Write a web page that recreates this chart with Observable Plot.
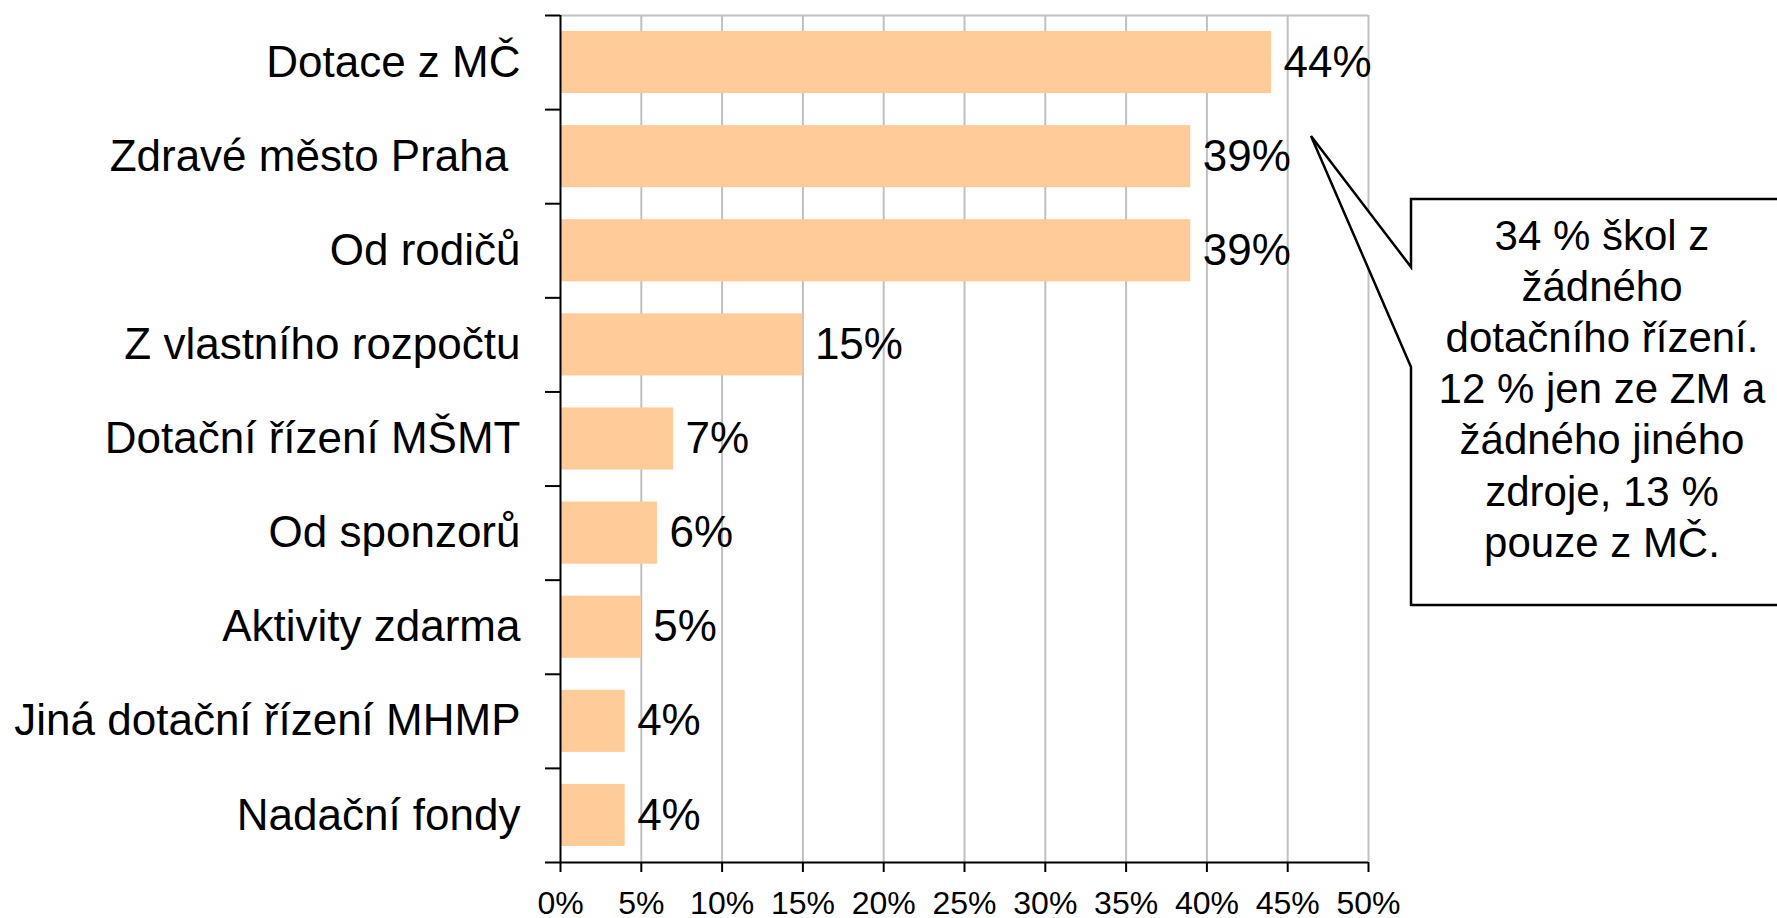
<!DOCTYPE html>
<html>
<head>
<meta charset="utf-8">
<script src="https://cdn.jsdelivr.net/npm/d3@7"></script>
<script src="https://cdn.jsdelivr.net/npm/@observablehq/plot@0.6"></script>
<style>
  html, body { margin: 0; padding: 0; background: #ffffff; }
  #chart { width: 1777px; height: 918px; }
</style>
</head>
<body>
<div id="chart"></div>
<script>
const categories = [
  "Dotace z MČ",
  "Zdravé město Praha ",
  "Od rodičů",
  "Z vlastního rozpočtu",
  "Dotační řízení MŠMT",
  "Od sponzorů",
  "Aktivity zdarma",
  "Jiná dotační řízení MHMP",
  "Nadační fondy"
];
const values = [0.44, 0.39, 0.39, 0.15, 0.07, 0.06, 0.05, 0.04, 0.04];
const xTicks = [0, 0.05, 0.10, 0.15, 0.20, 0.25, 0.30, 0.35, 0.40, 0.45, 0.50];
const calloutLines = [
  "34 % škol z",
  "žádného",
  "dotačního řízení.",
  "12 % jen ze ZM a",
  "žádného jiného",
  "zdroje, 13 %",
  "pouze z MČ."
];

const data = categories.map((c, i) => ({category: c, value: values[i], index: i}));
const n = categories.length;
const pct = d3.format(".0%");
const font = "'Liberation Sans', Arial, sans-serif";

const plot = Plot.plot({
  width: 1777,
  height: 918,
  marginLeft: 560,
  marginRight: 409,
  marginTop: 15,
  marginBottom: 56,
  style: {fontFamily: font, background: "white", color: "black", overflow: "visible"},
  x: {domain: [0, 0.5]},
  y: {domain: [0, n], reverse: true},
  marks: [
    Plot.ruleX(xTicks.slice(1), {stroke: "#c0c0c0", strokeWidth: 2}),
    Plot.ruleY([0], {stroke: "#c0c0c0", strokeWidth: 2}),
    Plot.rect(data, {
      x1: d => 0,
      x2: "value",
      y1: d => d.index + 0.17,
      y2: d => d.index + 0.83,
      fill: "#FFCC99"
    }),
    Plot.text(data, {
      x: "value",
      y: d => d.index + 0.5,
      text: d => pct(d.value),
      dx: 12,
      textAnchor: "start",
      fontSize: 44,
      fill: "black"
    }),
    Plot.axisY(data.map(d => d.index + 0.5), {
      tickSize: 0,
      tickPadding: 40,
      tickFormat: v => categories[Math.floor(v)],
      fontSize: 44,
      fill: "black",
      label: null
    }),
    Plot.axisY(data.map(d => d.index).concat([n]), {
      tickSize: 15,
      tickFormat: () => "",
      stroke: "black",
      strokeWidth: 2,
      label: null
    }),
    Plot.axisX(xTicks, {
      tickSize: 10,
      tickPadding: 19,
      tickFormat: pct,
      fontSize: 32,
      stroke: "black",
      strokeWidth: 2,
      fill: "black",
      label: null
    }),
    Plot.ruleX([0], {stroke: "black", strokeWidth: 2}),
    Plot.ruleY([n], {stroke: "black", strokeWidth: 2})
  ]
});

document.getElementById("chart").appendChild(plot);

// Callout annotation
const svg = d3.select(plot);
const g = svg.append("g").attr("class", "callout");
const boxL = 1411, boxT = 199, boxB = 605, boxR = 1790;
const tipX = 1311, tipY = 136, baseT = 267, baseB = 367;
g.append("path")
  .attr("d", `M${boxL},${baseT} L${boxL},${boxT} L${boxR},${boxT} L${boxR},${boxB} L${boxL},${boxB} L${boxL},${baseB} L${tipX},${tipY} Z`)
  .attr("fill", "white")
  .attr("stroke", "black")
  .attr("stroke-width", 2.5)
  .attr("stroke-linejoin", "miter");
const cx = 1602;
g.selectAll("text.cl")
  .data(calloutLines)
  .join("text")
  .attr("class", "cl")
  .attr("x", cx)
  .attr("y", (d, i) => 250 + i * 51.1)
  .attr("text-anchor", "middle")
  .attr("font-family", font)
  .attr("font-size", 42)
  .attr("fill", "black")
  .text(d => d);
</script>
</body>
</html>
